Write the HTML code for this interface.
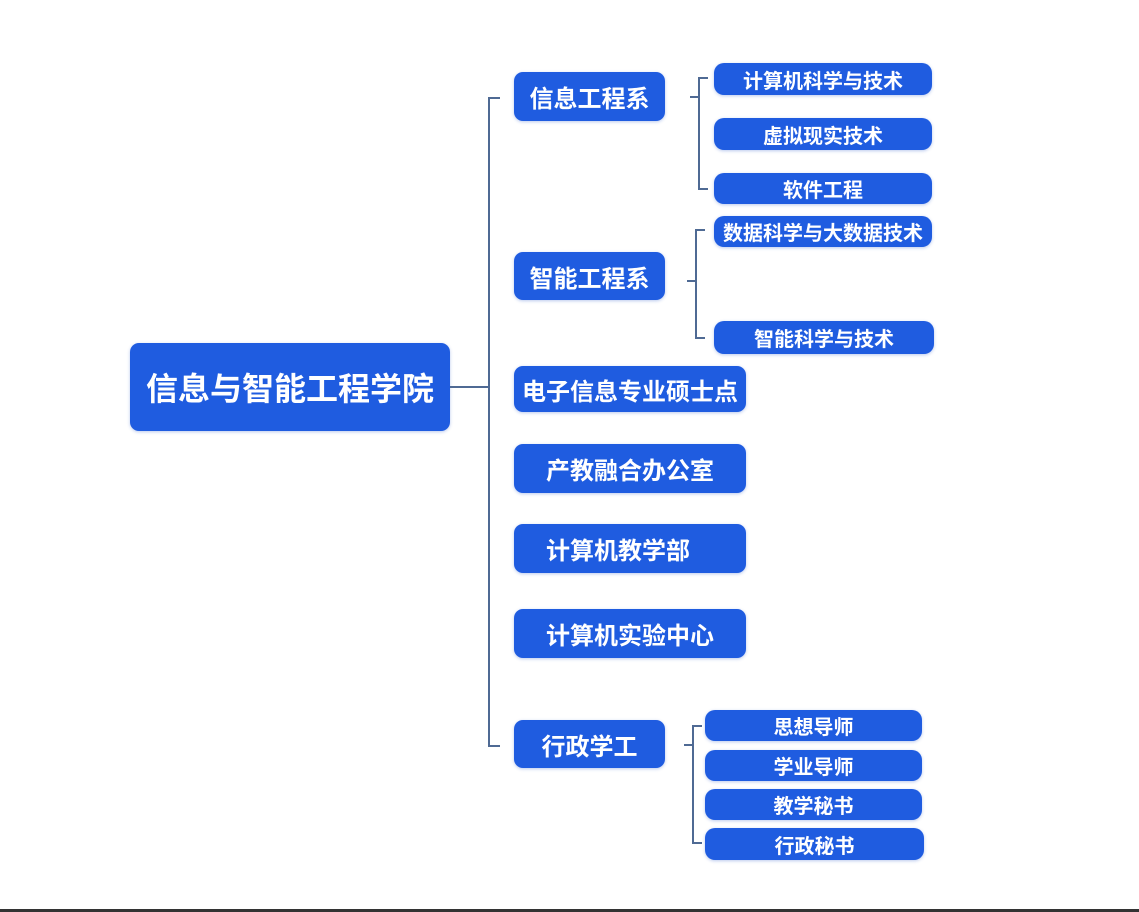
<!DOCTYPE html>
<html><head><meta charset="utf-8"><style>
body{margin:0;width:1139px;height:912px;background:#fff;position:relative;overflow:hidden;font-family:"Liberation Sans","Noto Sans CJK SC",sans-serif}
.b{position:absolute;background:#1f5ce0;color:#fff;border-radius:9px;display:flex;align-items:center;justify-content:center;font-weight:bold;white-space:nowrap;box-shadow:0 1px 3px rgba(30,80,200,.3)}
.l1{font-size:24px}.l2{font-size:20px;border-radius:10px}
.v,.h{position:absolute;background:#4f6a94}
.v{width:2px}.h{height:2px}
</style></head><body>
<div class="b" style="left:130px;top:343px;width:320px;height:88px;font-size:32px">信息与智能工程学院</div>
<div class="h" style="left:450px;top:386px;width:40px"></div>
<div class="v" style="left:488px;top:98px;height:649px"></div>
<div class="h" style="left:488px;top:97px;width:12px"></div>
<div class="h" style="left:488px;top:745px;width:12px"></div>

<div class="b l1" style="left:514px;top:72px;width:151px;height:49px">信息工程系</div>
<div class="b l1" style="left:514px;top:252px;width:151px;height:48px">智能工程系</div>
<div class="b l1" style="left:514px;top:366px;width:232px;height:46px">电子信息专业硕士点</div>
<div class="b l1" style="left:514px;top:444px;width:232px;height:49px;justify-content:flex-start;padding-left:32px;box-sizing:border-box">产教融合办公室</div>
<div class="b l1" style="left:514px;top:524px;width:232px;height:49px;justify-content:flex-start;padding-left:32px;box-sizing:border-box">计算机教学部</div>
<div class="b l1" style="left:514px;top:609px;width:232px;height:49px;justify-content:flex-start;padding-left:32px;box-sizing:border-box">计算机实验中心</div>
<div class="b l1" style="left:514px;top:720px;width:151px;height:48px">行政学工</div>

<div class="h" style="left:690px;top:96px;width:10px"></div>
<div class="v" style="left:698px;top:78px;height:112px"></div>
<div class="h" style="left:698px;top:77px;width:10px"></div>
<div class="h" style="left:698px;top:188px;width:10px"></div>
<div class="b l2" style="left:714px;top:63px;width:218px;height:32px">计算机科学与技术</div>
<div class="b l2" style="left:714px;top:118px;width:218px;height:32px">虚拟现实技术</div>
<div class="b l2" style="left:714px;top:173px;width:218px;height:31px">软件工程</div>

<div class="h" style="left:687px;top:280px;width:10px"></div>
<div class="v" style="left:695px;top:230px;height:109px"></div>
<div class="h" style="left:695px;top:229px;width:10px"></div>
<div class="h" style="left:695px;top:337px;width:10px"></div>
<div class="b l2" style="left:714px;top:216px;width:218px;height:31px">数据科学与大数据技术</div>
<div class="b l2" style="left:714px;top:321px;width:220px;height:33px">智能科学与技术</div>

<div class="h" style="left:684px;top:744px;width:10px"></div>
<div class="v" style="left:692px;top:726px;height:118px"></div>
<div class="h" style="left:692px;top:725px;width:10px"></div>
<div class="h" style="left:692px;top:842px;width:10px"></div>
<div class="b l2" style="left:705px;top:710px;width:217px;height:31px">思想导师</div>
<div class="b l2" style="left:705px;top:750px;width:217px;height:31px">学业导师</div>
<div class="b l2" style="left:705px;top:789px;width:217px;height:31px">教学秘书</div>
<div class="b l2" style="left:705px;top:828px;width:219px;height:32px">行政秘书</div>

<div style="position:absolute;left:0;top:909px;width:1139px;height:3px;background:#333"></div>
</body></html>
